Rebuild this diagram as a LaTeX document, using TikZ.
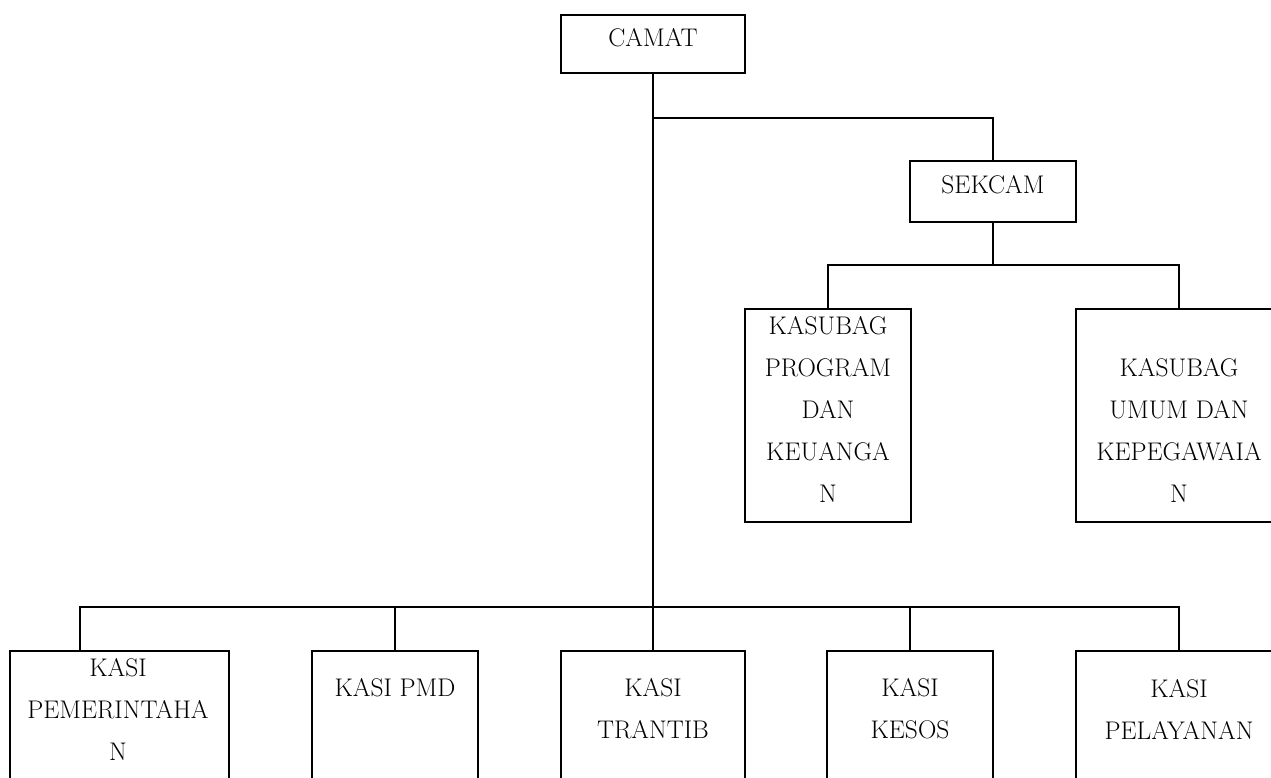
\documentclass[tikz,border=0pt]{standalone}
\usepackage{fontspec}
\begin{document}
\begin{tikzpicture}[x=1pt,y=-1pt,
  box/.style={draw, line width=1.4pt, inner sep=0pt},
  lbl/.style={font=\fontsize{25.5}{42}\selectfont, align=center, inner sep=0pt},
  conn/.style={line width=1.4pt}]
\useasboundingbox (0,0) rectangle (1271,777);
% boxes
\node[box, minimum width=184pt, minimum height=58pt] (camat) at (653,44) {};
\node[box, minimum width=166pt, minimum height=61pt] (sekcam) at (993,191.5) {};
\node[box, minimum width=166pt, minimum height=213pt] (kprog) at (828,415.5) {};
\node[box, minimum width=206pt, minimum height=213pt] (kumum) at (1179,415.5) {};
\node[box, minimum width=219pt, minimum height=179pt] (kpem) at (119.5,740.5) {};
\node[box, minimum width=166pt, minimum height=179pt] (kpmd) at (395,740.5) {};
\node[box, minimum width=184pt, minimum height=179pt] (ktrantib) at (653,740.5) {};
\node[box, minimum width=166pt, minimum height=179pt] (kkesos) at (910,740.5) {};
\node[box, minimum width=206pt, minimum height=179pt] (kpel) at (1179,740.5) {};
% labels
\node[lbl] (tcamat) at (653,38) {CAMAT};
\node[lbl] (tsekcam) at (993,185) {SEKCAM};
\node[lbl] (tkprog) at (828,409) {KASUBAG\\PROGRAM\\DAN\\KEUANGA\\N};
\node[lbl] (tkumum) at (1179,430) {KASUBAG\\UMUM DAN\\KEPEGAWAIA\\N};
\node[lbl] (tkpem) at (118,709.5) {KASI\\PEMERINTAHA\\N};
\node[lbl] (tkpmd) at (395,688) {KASI PMD};
\node[lbl] (tktrantib) at (653,709) {KASI\\TRANTIB};
\node[lbl] (tkkesos) at (910,709) {KASI\\KESOS};
\node[lbl] (tkpel) at (1179,709) {KASI\\PELAYANAN};
% junctions
\coordinate (j1) at (653,118);
\coordinate (j2) at (993,265);
\coordinate (j3) at (653,607);
% connectors
\draw[conn] (camat) -- (ktrantib);
\draw[conn] (j1) -| (sekcam.north);
\draw[conn] (sekcam.south) -- (j2);
\draw[conn] (kprog.north) |- (j2) -| (kumum.north);
\draw[conn] ([xshift=-39.5pt]kpem.north) |- (j3) -| (kpel.north);
\draw[conn] (kpmd.north) -- (kpmd.north |- j3);
\draw[conn] (kkesos.north) -- (kkesos.north |- j3);
\end{tikzpicture}
\end{document}
